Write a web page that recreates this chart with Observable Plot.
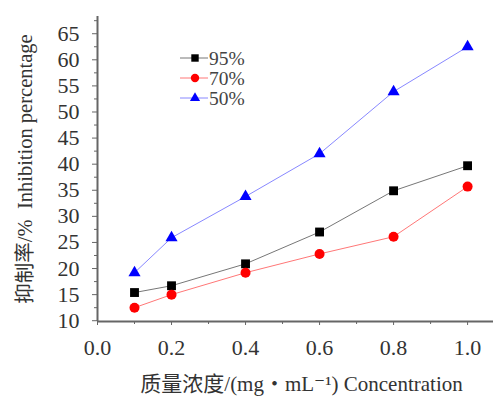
<!DOCTYPE html>
<html><head><meta charset="utf-8">
<script src="https://cdn.jsdelivr.net/npm/d3@7"></script>
<script src="https://cdn.jsdelivr.net/npm/@observablehq/plot@0.6"></script>
<style>
body{margin:0;background:#fff;}
#wrap{position:relative;width:494px;height:396px;overflow:hidden;background:#fff;}
#legend{position:absolute;left:176px;top:46px;}
#wrap svg text{font-family:"Liberation Serif","DejaVu Serif","Noto Sans CJK SC",serif;}
</style></head><body><div id="wrap"></div>
<script>
const concentration = [0.1, 0.2, 0.4, 0.6, 0.8, 1.0];
const seriesNames = ["95%", "70%", "50%"];
const inh95 = [15.4, 16.7, 20.9, 27.0, 34.9, 39.7];
const inh70 = [12.5, 15.0, 19.2, 22.8, 26.1, 35.7];
const inh50 = [19.2, 25.9, 33.8, 42.0, 53.9, 62.5];
const xTicks = [0.0, 0.2, 0.4, 0.6, 0.8, 1.0];
const xMinor = [0.1, 0.3, 0.5, 0.7, 0.9];
const yTicks = [10, 15, 20, 25, 30, 35, 40, 45, 50, 55, 60, 65];
const yMinor = [12.5, 17.5, 22.5, 27.5, 32.5, 37.5, 42.5, 47.5, 52.5, 57.5, 62.5, 67.5];
const xTitle = "质量浓度/(mg・mL⁻¹) Concentration";
const yTitle = "抑制率/%  Inhibition percentage";

const styles = {
  "95%": {symbol: "square", fill: "#000", line: "#777", r: 5},
  "70%": {symbol: "circle", fill: "#f00", line: "#f77", r: 5},
  "50%": {symbol: "triangle", fill: "#00f", line: "#88f", r: 4.5}
};
const valuesBySeries = {"95%": inh95, "70%": inh70, "50%": inh50};
const data = seriesNames.flatMap(s => concentration.map((c, i) => ({series: s, x: c, y: valuesBySeries[s][i]})));

const axisColor = "#666";

const marks = [];
for (const s of seriesNames) {
  const d = data.filter(v => v.series === s);
  marks.push(Plot.line(d, {x: "x", y: "y", stroke: styles[s].line, strokeWidth: 1}));
}
for (const s of seriesNames) {
  const d = data.filter(v => v.series === s);
  marks.push(Plot.dot(d, {x: "x", y: "y", symbol: () => styles[s].symbol, fill: styles[s].fill, r: styles[s].r, stroke: "none"}));
}

const chart = Plot.plot({
  width: 494, height: 396,
  marginLeft: 97, marginRight: 1, marginTop: 16, marginBottom: 75,
  style: {background: "#fff", color: "#333"},
  x: {domain: [0, 1.07]},
  y: {domain: [9.85, 68.3]},
  symbol: {type: "identity"},
  marks: [
    Plot.axisX({ticks: xTicks, tickFormat: d3.format(".1f"), tickSize: 4, stroke: axisColor, fontSize: 22, tickPadding: 14,
      label: xTitle, labelAnchor: "center", labelOffset: 69, labelArrow: "none"}),
    Plot.axisX({ticks: xMinor, tickSize: 3, stroke: axisColor, text: null, label: null}),
    Plot.axisY({ticks: yTicks, tickSize: 5, stroke: axisColor, fontSize: 22, tickPadding: 13,
      label: yTitle, labelAnchor: "center", labelOffset: 80, labelArrow: "none"}),
    Plot.axisY({ticks: yMinor, tickSize: 3, stroke: axisColor, text: null, label: null}),
    Plot.ruleX([0], {stroke: axisColor, strokeWidth: 2}),
    Plot.ruleY([9.85], {stroke: axisColor, strokeWidth: 2}),
    ...marks
  ]
});
chart.querySelectorAll("g[aria-label='y-axis label'] text").forEach(t => t.setAttribute("font-size", "20.5"));
chart.querySelectorAll("g[aria-label='x-axis label'] text").forEach(t => {
  t.setAttribute("font-size", "21");
  t.setAttribute("dx", "6");
});
document.getElementById("wrap").appendChild(chart);

// Legend
const legendRows = seriesNames.map(s => ({name: s, ...styles[s]}));
const lg = d3.select("#wrap").append("svg").attr("id", "legend").attr("width", 90).attr("height", 66);
const row = lg.selectAll("g").data(legendRows).join("g").attr("transform", (d, i) => `translate(0,${12 + i * 20})`);
row.append("line").attr("x1", 4).attr("x2", 32).attr("stroke", d => d.line).attr("stroke-width", 1);
row.append("path").attr("transform", "translate(19,0)")
  .attr("d", d => d3.symbol(d.symbol === "square" ? d3.symbolSquare : d.symbol === "circle" ? d3.symbolCircle : d3.symbolTriangle, Math.PI * d.r * d.r * 0.7)())
  .attr("fill", d => d.fill);
row.append("text").attr("x", 33).attr("dy", "0.35em").text(d => d.name)
  .attr("font-size", 19.5).attr("fill", "#444");
</script></body></html>
